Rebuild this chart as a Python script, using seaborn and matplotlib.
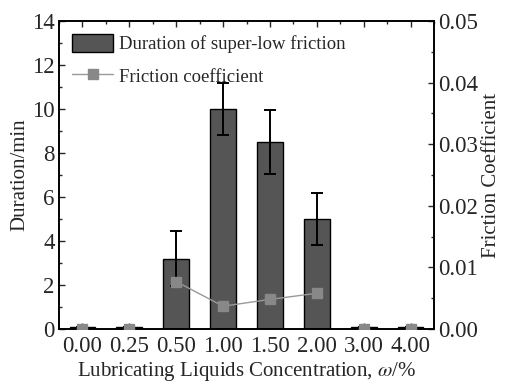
import numpy as np
import pandas as pd
import seaborn as sns
import matplotlib.pyplot as plt
from matplotlib.ticker import MultipleLocator, FixedLocator
from matplotlib.patches import Patch
from matplotlib.lines import Line2D

concentrations = ['0.00', '0.25', '0.50', '1.00', '1.50', '2.00', '3.00', '4.00']
duration = [0.08, 0.08, 3.2, 10.0, 8.5, 5.0, 0.08, 0.08]
duration_err = [0, 0, 1.25, 1.2, 1.45, 1.2, 0, 0]
friction = [0.0, 0.0, 0.0077, 0.0037, 0.0048, 0.0058, 0.0, 0.0]
friction_loaded = [False, False, True, True, True, True, False, False]

sns.set_style('ticks')
plt.rcParams['font.family'] = ['Liberation Serif', 'DejaVu Serif']
plt.rcParams['mathtext.fontset'] = 'stix'
plt.rcParams['xtick.direction'] = 'in'
plt.rcParams['ytick.direction'] = 'in'

df = pd.DataFrame({'conc': concentrations, 'duration': duration,
                   'err': duration_err, 'friction': friction,
                   'loaded': friction_loaded})

fig = plt.figure(figsize=(5.07, 3.87), dpi=100)
ax = fig.add_axes([0.1164, 0.1499, 0.7396, 0.7959])

sns.barplot(data=df, x='conc', y='duration', order=concentrations,
            color='#555555', edgecolor='black', linewidth=1.0,
            width=0.55, saturation=1, errorbar=None, ax=ax, zorder=2)
xpos = np.arange(len(concentrations))
ax.errorbar(xpos, df['duration'], yerr=df['err'], fmt='none',
            ecolor='black', elinewidth=1.4, capsize=4.3, capthick=1.4, zorder=3)

ax.set_ylim(0, 14)
ax.set_xlim(-0.5, len(concentrations) - 0.5)
ax.yaxis.set_major_locator(MultipleLocator(2))
ax.yaxis.set_minor_locator(MultipleLocator(1))
ax.xaxis.set_minor_locator(FixedLocator(np.arange(-0.5, len(concentrations), 1)))
ax.tick_params(axis='x', which='major', top=True, bottom=True, length=4, width=1)
ax.tick_params(axis='x', which='minor', top=True, bottom=False, length=2, width=1)
ax.tick_params(axis='y', which='major', length=4, width=1, right=False)
ax.tick_params(axis='y', which='minor', length=2, width=1, right=False)
ax.tick_params(axis='x', labelsize=16.5, pad=5)
ax.tick_params(axis='y', labelsize=16.5, pad=3)
ax.set_xlabel('Lubricating Liquids Concentration, $\\mathit{\\omega}$/%', fontsize=15, labelpad=2)
ax.set_ylabel('Duration/min', fontsize=15, labelpad=2)
for s in ax.spines.values():
    s.set_linewidth(1.2)
    s.set_color('black')

ax2 = ax.twinx()
mid = df[df['loaded']]
ax2.plot(xpos[df['loaded'].values], mid['friction'], color='#999999', lw=1.0, zorder=4)
ax2.plot(xpos, df['friction'], ls='none', marker='s', ms=7.5, color='#888888',
         clip_on=True, zorder=5)
ax2.set_ylim(0, 0.05)
ax2.yaxis.set_major_locator(MultipleLocator(0.01))
ax2.yaxis.set_minor_locator(MultipleLocator(0.005))
ax2.yaxis.set_major_formatter(plt.FormatStrFormatter('%.2f'))
ax2.tick_params(axis='y', which='major', length=4, width=1, labelsize=16.5, pad=3)
ax2.tick_params(axis='y', which='minor', length=2, width=1)
ax2.set_ylabel('Friction Coefficient', fontsize=15, labelpad=3)
for s in ax2.spines.values():
    s.set_linewidth(1.2)
    s.set_color('black')

handles = [Patch(facecolor='#555555', edgecolor='black', linewidth=1.0),
           Line2D([], [], color='#999999', lw=1.0, marker='s', ms=7.5,
                  markerfacecolor='#888888', markeredgecolor='#888888')]
ax.legend(handles, ['Duration of super-low friction', 'Friction coefficient'],
          loc='upper left', frameon=False, fontsize=13.5, handlelength=2.2,
          handleheight=1.1, borderaxespad=0.3, labelspacing=0.7, handletextpad=0.3)

fig.savefig('out.png', dpi=100)
